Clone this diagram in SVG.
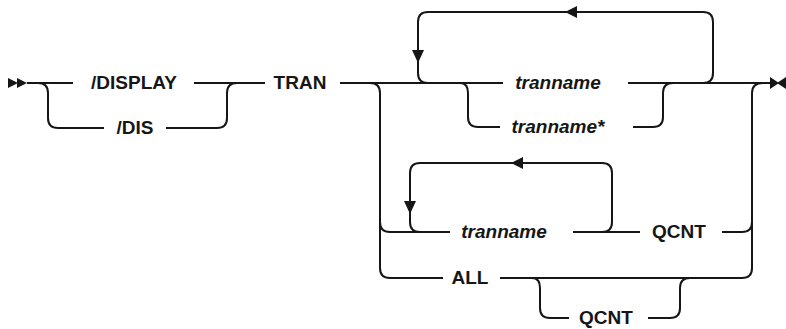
<svg xmlns="http://www.w3.org/2000/svg" width="786" height="329" viewBox="0 0 786 329">
<style>
.ln{fill:none;stroke:#161616;stroke-width:2}
.ah{fill:#161616}
.t{font-family:"Liberation Sans",Arial,sans-serif;font-size:19px;font-weight:bold;fill:#161616;text-anchor:middle}
.v{font-style:italic}
</style>
<rect width="786" height="329" fill="#fff"/>
<g id="connectors">
<path class="ln" d="M27,83 H73"/>
<path class="ln" d="M38,83 Q48,83 48,93 V118 Q48,128 58,128 H104"/>
<path class="ln" d="M166,128 H217 Q227,128 227,118 V93 Q227,83 237,83"/>
<path class="ln" d="M194,83 H265"/>
<path class="ln" d="M340,83 H503"/>
<path class="ln" d="M628,83 H771"/>
<path class="ln" d="M370,83 Q380,83 380,93 V268 Q380,278 390,278 H443"/>
<path class="ln" d="M380,222 Q380,232 390,232 H450"/>
<path class="ln" d="M703,83 Q713,83 713,73 V22 Q713,12 703,12 H428 Q418,12 418,22 V73 Q418,83 428,83"/>
<path class="ln" d="M460,83 Q468,83 468,93 V117 Q468,127 478,127 H500"/>
<path class="ln" d="M633,127 H653 Q663,127 663,117 V93 Q663,83 673,83"/>
<path class="ln" d="M763,83 Q752,83 752,93 V268 Q752,278 742,278 H500"/>
<path class="ln" d="M722,232 H742 Q752,232 752,222"/>
<path class="ln" d="M573,232 H640"/>
<path class="ln" d="M602,232 Q612,232 612,222 V173 Q612,163 602,163 H420 Q410,163 410,173 V222 Q410,232 420,232"/>
<path class="ln" d="M532,278 Q540,278 540,288 V308 Q540,318 550,318 H569"/>
<path class="ln" d="M648,318 H670 Q680,318 680,308 V288 Q680,278 690,278"/>
<polygon class="ah" points="8,78 18,83 8,88"/>
<polygon class="ah" points="17,78 27,83 17,88"/>
<polygon class="ah" points="770,77 779,83 770,89"/>
<polygon class="ah" points="786,77 777,83 786,89"/>
<polygon class="ah" points="412,50 424,50 418,63"/>
<polygon class="ah" points="577,6 577,18 565,12"/>
<polygon class="ah" points="404,201 416,201 410,214"/>
<polygon class="ah" points="523,157 523,169 511,163"/>
</g>
<g id="n-display"><text class="t" x="134" y="89">/DISPLAY</text></g>
<g id="n-dis"><text class="t" x="135" y="134">/DIS</text></g>
<g id="n-tran"><text class="t" x="300" y="89">TRAN</text></g>
<g id="n-tranname1"><text class="t v" x="558" y="89">tranname</text></g>
<g id="n-tranname-star"><text class="t v" x="558" y="133">tranname*</text></g>
<g id="n-tranname2"><text class="t v" x="504" y="238">tranname</text></g>
<g id="n-qcnt1"><text class="t" x="679" y="238">QCNT</text></g>
<g id="n-all"><text class="t" x="470" y="284">ALL</text></g>
<g id="n-qcnt2"><text class="t" x="606" y="324">QCNT</text></g>
</svg>
